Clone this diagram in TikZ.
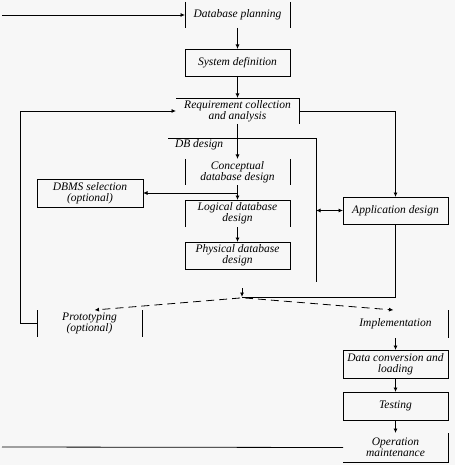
\documentclass[tikz,border=0pt]{standalone}
\usepackage{fontspec}
\setmainfont{Liberation Serif}
\usetikzlibrary{arrows.meta}
\definecolor{bg}{HTML}{F7F7F7}
\tikzset{
  lbl/.style={font=\fontsize{11.5}{11}\selectfont\itshape, align=center, inner sep=0pt, outer sep=0pt},
  stage/.style={lbl, minimum width=105pt, minimum height=27pt},
  framed/.style={stage, draw, line width=0.8pt},
  ln/.style={line width=0.8pt},
  arr/.style={ln, -{Latex[length=4.5pt,width=4pt]}},
  dasharr/.style={arr, dash pattern=on 8pt off 5pt},
}
\begin{document}
\begin{tikzpicture}[x=1pt,y=-1pt]
\fill[bg] (0,0) rectangle (455,465);
\useasboundingbox (0,0) rectangle (455,465);

% stage nodes
\node[stage, minimum height=26pt] (dp) at (237.5,15) {Database planning};
\node[framed] (sd) at (237.5,62.5) {System definition};
\node[stage, minimum width=123pt, minimum height=26pt] (rc) at (237.5,111) {Requirement collection\\and analysis};
\node[stage, minimum height=26pt] (cd) at (237.5,172) {Conceptual\\database design};
\node[framed, minimum width=106pt, minimum height=28pt] (dbms) at (90,193) {DBMS selection\\(optional)};
\node[stage] (ld) at (237.5,213.5) {Logical database\\design};
\node[framed] (pd) at (237.5,255.5) {Physical database\\design};
\node[framed] (ad) at (395.5,210.5) {Application design};
\node[stage] (pr) at (89.5,323.5) {Prototyping\\(optional)};
\node[stage, minimum height=28pt] (im) at (395.5,324) {Implementation};
\node[framed, minimum height=28pt] (dc) at (395.5,364) {Data conversion and\\loading};
\node[framed, minimum height=28pt] (te) at (395.5,406) {Testing};
\node[stage, minimum height=29pt] (om) at (395.5,447.5) {Operation\\maintenance};
\node[lbl, anchor=west] (dbl) at (175,145) {DB design};

% partial borders
\draw[ln] (dp.north west) -- (dp.south west);
\draw[ln] (dp.north east) -- (dp.south east);
\draw[ln] (rc.north west) -- (rc.north east) -- (rc.south east);
\draw[ln] (cd.north west) -- (cd.south west);
\draw[ln] (cd.north east) -- (cd.south east);
\draw[ln] (ld.south west) -- (ld.north west) -- (ld.north east) -- (ld.south east);
\draw[ln] (pr.north west) -- (pr.south west);
\draw[ln] (pr.north east) -- (pr.south east);
\draw[ln] (im.north east) -- (im.south east);
\draw[ln] (om.north east) -- (om.south east) -- (om.south west);

% DB design frame
\coordinate (ftl) at (168,138);
\coordinate (ftr) at (316,138);
\coordinate (fbr) at (316,282);
\draw[ln] (ftl) -- (ftr) -- (fbr);

% free ends
\coordinate (in1) at (2,15);
\coordinate (in2) at (2,447);
\coordinate (fb) at (20,323.5);
\coordinate (j) at (242,297);
\coordinate (jt) at (242,288);
\coordinate (jl) at (240,298);
\coordinate (jr) at (245,298);

% connectors
\draw[arr] (in1) -- (dp.west);
\draw[arr] (dp.south) -- (sd.north);
\draw[arr] (sd.south) -- (rc.north);
\draw[arr] (pr.west) -- (fb) |- (rc.west);
\draw[arr] (rc.east) -| (ad.north);
\draw[arr] (rc.south) -- (cd.north);
\draw[arr] (cd.south) -- (ld.north);
\draw[arr] (cd.south |- dbms.east) -- (dbms.east);
\draw[arr] (ld.south) -- (pd.north);
\draw[ln, {Latex[length=4.5pt,width=4pt]}-{Latex[length=4.5pt,width=4pt]}] (fbr |- ad.west) -- (ad.west);
\draw[ln] (ad.south) |- (j);
\draw[arr] (jt) -- (j);
\draw[dasharr] (jl) -- ([xshift=5pt]pr.north);
\draw[dasharr] (jr) -- ([xshift=-2pt]im.north);
\draw[arr] (im.south) -- (dc.north);
\draw[arr] (dc.south) -- (te.north);
\draw[arr] (te.south) -- (om.north);
\draw[ln] (in2) -- (om.west);
\end{tikzpicture}
\end{document}
